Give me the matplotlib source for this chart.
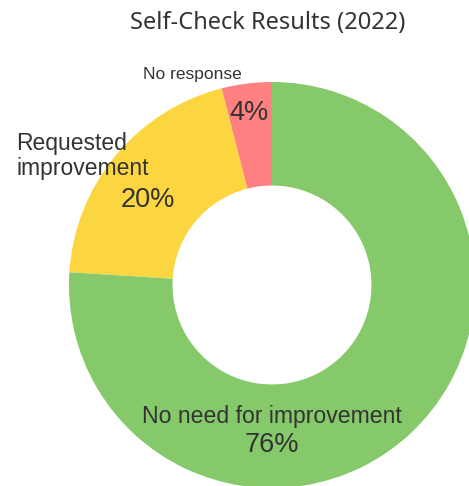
import matplotlib
matplotlib.use("Agg")
import matplotlib.pyplot as plt

# Self-check survey shares (%), counter-clockwise from 12 o'clock
labels = ["No response", "Requested\nimprovement", "No need for improvement"]
shares = [4, 20, 76]
colors = ["#fe8080", "#fcd640", "#86c96a"]

W, H = 469, 486
fig = plt.figure(figsize=(W / 100, H / 100), dpi=100)

# donut is partly cropped by the figure edge: centre (272, 285), r = 203 px
cx, cy, r = 272, 285, 203
ax = fig.add_axes([(cx - r) / W, (H - cy - r) / H, 2 * r / W, 2 * r / H])

ax.pie(shares, colors=colors, startangle=90, counterclock=True, radius=1,
       wedgeprops=dict(width=0.51, linewidth=0))
ax.set_xlim(-1, 1)
ax.set_ylim(-1, 1)
ax.set_aspect("auto")
ax.axis("off")

txt = "#333333"
font = "Liberation Sans"

def px(x, y):
    # pixel position -> data coords of the pie axes
    return (x - cx) / r, (cy - y) / r

ax.text(*px(192, 75), labels[0], ha="center", va="center", fontsize=12.5,
        color=txt, family=font)
ax.text(*px(249, 113), f"{shares[0]}%", ha="center", va="center", fontsize=19.5,
        color=txt, family=font)
ax.text(*px(16, 156), labels[1], ha="left", va="center", fontsize=16.5,
        color=txt, family=font, linespacing=1.15)
ax.text(*px(148, 200), f"{shares[1]}%", ha="center", va="center", fontsize=19.5,
        color=txt, family=font)
ax.text(*px(272, 416), labels[2], ha="center", va="center", fontsize=16.6,
        color=txt, family=font)
ax.text(*px(272, 445), f"{shares[2]}%", ha="center", va="center", fontsize=19.5,
        color=txt, family=font)

fig.text(268 / W, 1 - 23 / H, "Self-Check Results (2022)", ha="center",
         va="center", fontsize=17, color="#333333", family="Noto Sans")

fig.savefig("out.png", dpi=100)
